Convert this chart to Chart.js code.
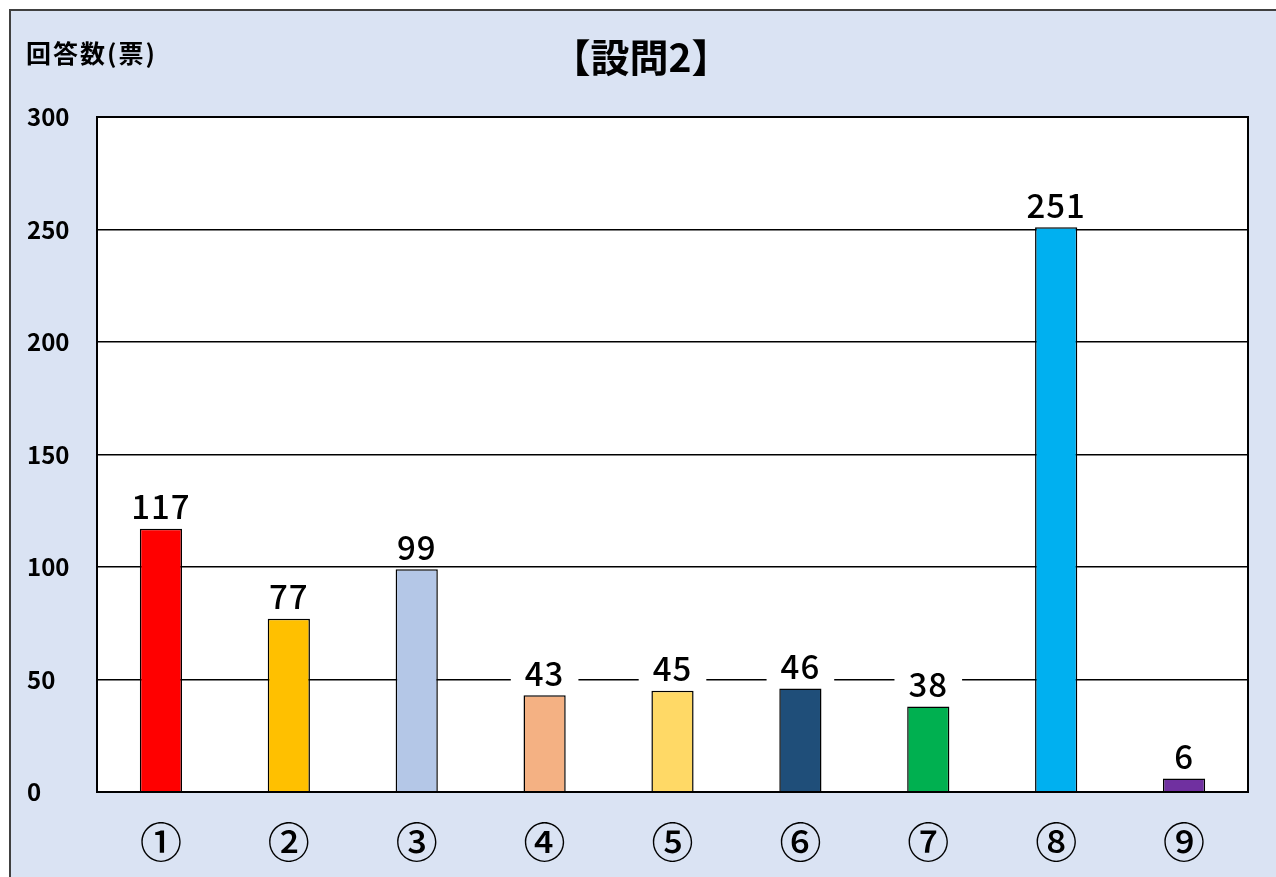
<!DOCTYPE html>
<html>
<head>
<meta charset="utf-8">
<script src="https://cdn.jsdelivr.net/npm/chart.js@4"></script>
<style>
  html, body { margin: 0; padding: 0; background: #fff; }
  #wrap { width: 1276px; height: 877px; }
</style>
</head>
<body>
<div id="wrap"><canvas id="chart" width="1276" height="877"></canvas></div>
<script>
// Chart data
const categories = ['①', '②', '③', '④', '⑤', '⑥', '⑦', '⑧', '⑨'];
const votes = [117, 77, 99, 43, 45, 46, 38, 251, 6];
const barColors = ['#FF0000', '#FFC000', '#B4C7E7', '#F4B183', '#FFD966', '#1F4E79', '#00B050', '#00B0F0', '#7030A0'];
const yTicks = [0, 50, 100, 150, 200, 250, 300];

const chartTitle = '【設問2】';
const axisTitle = '回答数(票)';
const FONT = '"Noto Sans CJK JP", "Noto Sans", sans-serif';

// Background frame, titles and boxed value labels
const decorations = {
    id: 'decorations',
    beforeDraw(chart) {
        const ctx = chart.ctx;
        const area = chart.chartArea;
        ctx.save();
        ctx.fillStyle = '#fff';
        ctx.fillRect(0, 0, chart.width, chart.height);
        ctx.fillStyle = '#DAE3F3';
        ctx.fillRect(10, 10, chart.width, chart.height);
        ctx.strokeStyle = '#404040';
        ctx.lineWidth = 2;
        ctx.strokeRect(10, 10, chart.width + 10, chart.height + 10);
        ctx.fillStyle = '#fff';
        ctx.fillRect(area.left, area.top, area.right - area.left, area.bottom - area.top);

        ctx.fillStyle = '#000';
        ctx.textBaseline = 'middle';
        ctx.textAlign = 'center';
        ctx.font = 'bold 39px ' + FONT;
        ctx.fillText(chartTitle, 641, 57);
        ctx.textAlign = 'left';
        ctx.font = 'bold 25px ' + FONT;
        ctx.letterSpacing = '2px';
        ctx.fillText(axisTitle, 26, 53);
        ctx.restore();
    },
    afterDatasetsDraw(chart) {
        const ctx = chart.ctx;
        const area = chart.chartArea;
        ctx.save();
        ctx.strokeStyle = '#000';
        ctx.lineWidth = 2;
        ctx.strokeRect(area.left, area.top, area.right - area.left, area.bottom - area.top);

        ctx.font = '500 33px ' + FONT;
        ctx.letterSpacing = '1px';
        ctx.textAlign = 'center';
        ctx.textBaseline = 'middle';
        chart.getDatasetMeta(0).data.forEach((bar, i) => {
            const text = String(votes[i]);
            const w = ctx.measureText(text).width + 28;
            const cy = bar.y - 22;
            ctx.fillStyle = '#fff';
            ctx.fillRect(bar.x - w / 2, cy - 17, w, 34);
            ctx.fillStyle = '#000';
            ctx.fillText(text, bar.x, cy);
        });
        ctx.restore();
    }
};

new Chart(document.getElementById('chart').getContext('2d'), {
    type: 'bar',
    data: {
        labels: categories,
        datasets: [{
            data: votes,
            backgroundColor: barColors,
            borderColor: '#000',
            borderWidth: 1.5,
            categoryPercentage: 1,
            barPercentage: 0.33
        }]
    },
    options: {
        responsive: false,
        animation: false,
        layout: { padding: { left: 27, right: 28, top: 117, bottom: 0 } },
        plugins: {
            legend: { display: false },
            tooltip: { enabled: false }
        },
        scales: {
            x: {
                grid: { display: false, drawTicks: false },
                border: { display: false },
                ticks: {
                    color: '#000',
                    padding: 25,
                    font: { family: FONT, size: 42, weight: 500 }
                },
                afterFit: scale => { scale.height = 85; }
            },
            y: {
                min: 0,
                max: 300,
                afterBuildTicks: scale => { scale.ticks = yTicks.map(v => ({ value: v })); },
                grid: { color: '#000', lineWidth: 1.5, drawTicks: false },
                border: { display: false },
                ticks: {
                    color: '#000',
                    crossAlign: 'far',
                    padding: 10,
                    font: { family: FONT, size: 24, weight: 'bold' }
                },
                afterFit: scale => { scale.width = 70; }
            }
        }
    },
    plugins: [decorations]
});
</script>
</body>
</html>
